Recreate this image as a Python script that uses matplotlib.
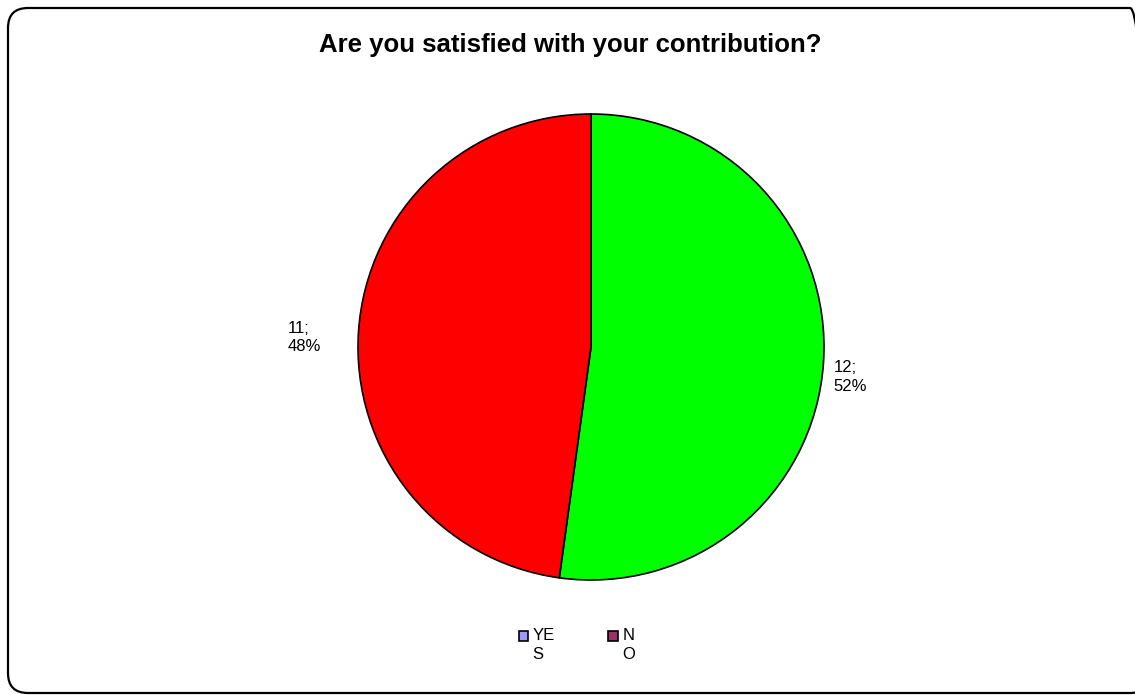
import matplotlib
matplotlib.use('Agg')
import matplotlib.pyplot as plt
import matplotlib.patches as mpatches
from matplotlib.legend_handler import HandlerPatch

# chart data
labels = ['YES', 'NO']
counts = [12, 11]
slice_colors = ['#00FF00', '#FF0000']
legend_labels = ['YE\nS', 'N\nO']
legend_colors = ['#9999FF', '#993366']

plt.rcParams['font.family'] = ['Liberation Sans', 'DejaVu Sans']

fig = plt.figure(figsize=(11.35, 6.95), dpi=100)

# rounded chart-area border (pixel coords)
border = mpatches.FancyBboxPatch((8, 2), 1142, 685,
                                 boxstyle='round,pad=0,rounding_size=20',
                                 transform=None, fill=False,
                                 edgecolor='black', linewidth=1.6)
fig.patches.append(border)

fig.text(570 / 1135, 1 - 45 / 695, 'Are you satisfied with your contribution?',
         ha='center', va='center', fontsize=18.5, fontweight='bold')

ax = fig.add_axes([358 / 1135, 115 / 695, 466 / 1135, 466 / 695])
wedges, _ = ax.pie(counts, colors=slice_colors, startangle=90, counterclock=False,
                   wedgeprops=dict(edgecolor='black', linewidth=1.2))
ax.set_aspect('equal')
ax.set_xlim(-1, 1)
ax.set_ylim(-1, 1)

total = sum(counts)
label_pos = [(1.04, -0.13, 'left'), (-1.16, 0.04, 'right')]
for c, (x, y, ha) in zip(counts, label_pos):
    ax.text(x, y, '{};\n{:.0f}%'.format(c, 100 * c / total), ha=ha, va='center',
            multialignment='left', fontsize=12, linespacing=1.3, clip_on=False)


# legend keys sit next to the first line of the wrapped label
def top_square(legend, orig_handle, xdescent, ydescent, width, height, fontsize):
    return mpatches.Rectangle((-xdescent, -ydescent + 0.55 * fontsize), width, height)


handles = [mpatches.Patch(facecolor=col, edgecolor='black', linewidth=1.2)
           for col in legend_colors]
leg = fig.legend(handles, legend_labels, loc='center', ncol=2,
                 bbox_to_anchor=(577 / 1135, 1 - 645 / 695), frameon=False,
                 fontsize=12, handlelength=0.55, handleheight=0.55,
                 handletextpad=0.3, columnspacing=3.2,
                 handler_map={mpatches.Patch: HandlerPatch(patch_func=top_square)})
for t in leg.get_texts():
    t.set_linespacing(1.4)

fig.savefig('out.png', dpi=100)
